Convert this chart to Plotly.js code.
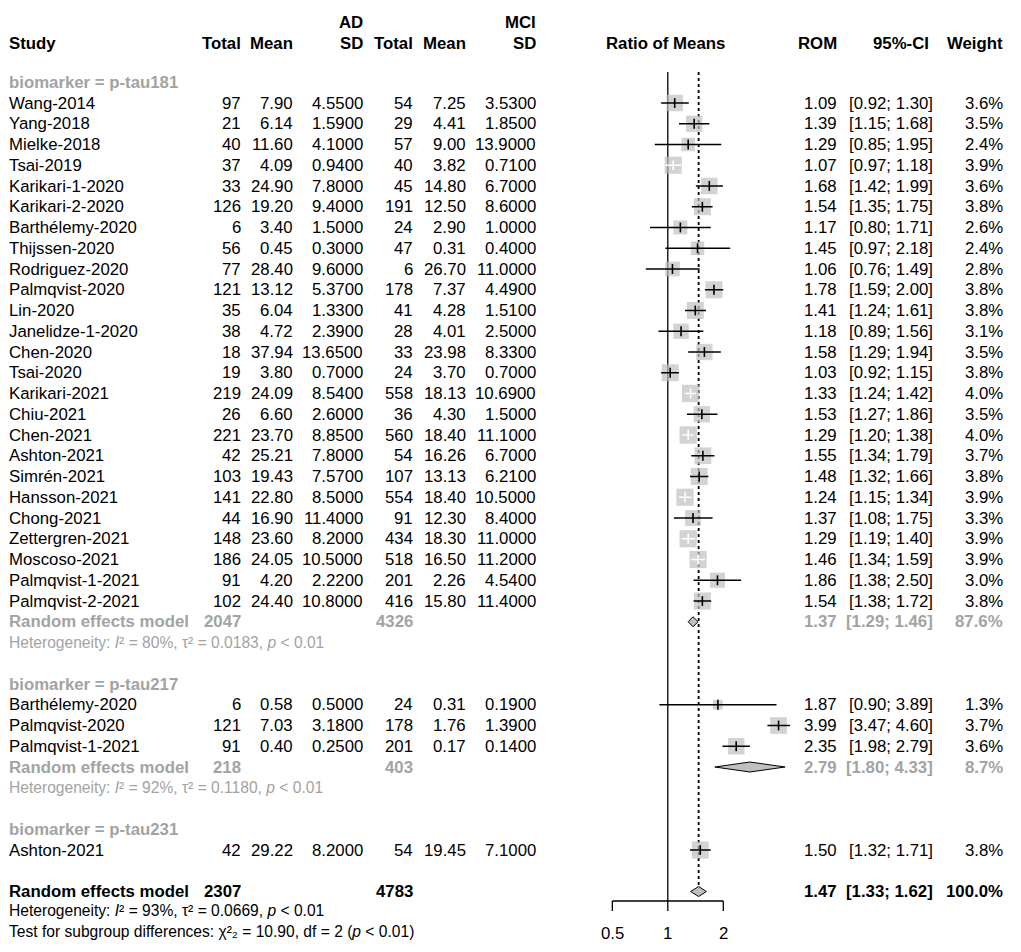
<!DOCTYPE html>
<html>
<head>
<meta charset="utf-8">
<script src="https://cdn.plot.ly/plotly-3.0.1.min.js"></script>
<style>html,body{margin:0;padding:0;background:#fff;}#chart{width:1021px;height:952px;}</style>
</head>
<body>
<div id="chart"></div>
<script>
// ---------------- DATA ----------------
const groupNames = ["p-tau181", "p-tau217", "p-tau231"];
const studies = ["Wang-2014","Yang-2018","Mielke-2018","Tsai-2019","Karikari-1-2020","Karikari-2-2020","Barthélemy-2020","Thijssen-2020","Rodriguez-2020","Palmqvist-2020","Lin-2020","Janelidze-1-2020","Chen-2020","Tsai-2020","Karikari-2021","Chiu-2021","Chen-2021","Ashton-2021","Simrén-2021","Hansson-2021","Chong-2021","Zettergren-2021","Moscoso-2021","Palmqvist-1-2021","Palmqvist-2-2021",
  "Barthélemy-2020","Palmqvist-2020","Palmqvist-1-2021",
  "Ashton-2021"];
const studyGroup = [0,0,0,0,0,0,0,0,0,0,0,0,0,0,0,0,0,0,0,0,0,0,0,0,0, 1,1,1, 2];
const adTotal = [97,21,40,37,33,126,6,56,77,121,35,38,18,19,219,26,221,42,103,141,44,148,186,91,102, 6,121,91, 42];
const adMean = [7.90,6.14,11.60,4.09,24.90,19.20,3.40,0.45,28.40,13.12,6.04,4.72,37.94,3.80,24.09,6.60,23.70,25.21,19.43,22.80,16.90,23.60,24.05,4.20,24.40, 0.58,7.03,0.40, 29.22];
const adSD = [4.55,1.59,4.10,0.94,7.80,9.40,1.50,0.30,9.60,5.37,1.33,2.39,13.65,0.70,8.54,2.60,8.85,7.80,7.57,8.50,11.40,8.20,10.50,2.22,10.80, 0.50,3.18,0.25, 8.20];
const mciTotal = [54,29,57,40,45,191,24,47,6,178,41,28,33,24,558,36,560,54,107,554,91,434,518,201,416, 24,178,201, 54];
const mciMean = [7.25,4.41,9.00,3.82,14.80,12.50,2.90,0.31,26.70,7.37,4.28,4.01,23.98,3.70,18.13,4.30,18.40,16.26,13.13,18.40,12.30,18.30,16.50,2.26,15.80, 0.31,1.76,0.17, 19.45];
const mciSD = [3.53,1.85,13.90,0.71,6.70,8.60,1.00,0.40,11.00,4.49,1.51,2.50,8.33,0.70,10.69,1.50,11.10,6.70,6.21,10.50,8.40,11.00,11.20,4.54,11.40, 0.19,1.39,0.14, 7.10];
const rom = [1.09,1.39,1.29,1.07,1.68,1.54,1.17,1.45,1.06,1.78,1.41,1.18,1.58,1.03,1.33,1.53,1.29,1.55,1.48,1.24,1.37,1.29,1.46,1.86,1.54, 1.87,3.99,2.35, 1.50];
const ciLow = [0.92,1.15,0.85,0.97,1.42,1.35,0.80,0.97,0.76,1.59,1.24,0.89,1.29,0.92,1.24,1.27,1.20,1.34,1.32,1.15,1.08,1.19,1.34,1.38,1.38, 0.90,3.47,1.98, 1.32];
const ciHigh = [1.30,1.68,1.95,1.18,1.99,1.75,1.71,2.18,1.49,2.00,1.61,1.56,1.94,1.15,1.42,1.86,1.38,1.79,1.66,1.34,1.75,1.40,1.59,2.50,1.72, 3.89,4.60,2.79, 1.71];
const weight = [3.6,3.5,2.4,3.9,3.6,3.8,2.6,2.4,2.8,3.8,3.8,3.1,3.5,3.8,4.0,3.5,4.0,3.7,3.8,3.9,3.3,3.9,3.9,3.0,3.8, 1.3,3.7,3.6, 3.8];

const groupADTotal = [2047, 218, null];
const groupMCITotal = [4326, 403, null];
const groupROM = [1.37, 2.79, null];
const groupLow = [1.29, 1.80, null];
const groupHigh = [1.46, 4.33, null];
const groupWeight = [87.6, 8.7, null];
const groupI2 = ["80%", "92%", null];
const groupTau2 = ["0.0183", "0.1180", null];
const groupP = ["&lt; 0.01", "&lt; 0.01", null];

const overallADTotal = 2307, overallMCITotal = 4783;
const overallROM = 1.47, overallLow = 1.33, overallHigh = 1.62, overallWeight = 100.0;
const overallI2 = "93%", overallTau2 = "0.0669", overallP = "&lt; 0.01";
const subgroupChi2 = "10.90", subgroupDf = 2, subgroupP = "&lt; 0.01";

const axisTicks = [0.5, 1, 2];
const tickLabels = ["0.5", "1", "2"];

// ---------------- LAYOUT HELPERS ----------------
const W = 1021, H = 952;
const Y0 = 103, RH = 20.75;          // pixel y of first study row, row height
const pr = p => (p - Y0) / RH;        // pixel y -> row units
const PXDEC = 184.3, X1 = 667.8;      // px per decade, pixel of ROM = 1
const FONT = "Liberation Sans, Arial, Helvetica, sans-serif";
const FS = 16.8, FS_SMALL = 15.6;
const GREY = "#a3a3a3";
const BOXC = "#c0c0c0";

const col = {study: 8, adT: 242, adM: 294, adS: 364, mciT: 414, mciM: 467, mciS: 537, rom: 838, ci: 934, w: 1004};

const ann = [];
function txt(px, row, text, o) {
  o = o || {};
  ann.push({
    xref: "paper", yref: "y", x: px / W, y: row,
    text: text, showarrow: false,
    xanchor: o.anchor || "right", yanchor: "middle",
    font: {family: FONT, size: o.size || FS, color: o.color || "#000"},
    borderpad: 0
  });
}
const b = s => "<b>" + s + "</b>";
const ciTxt = (l, h) => "[" + l.toFixed(2) + "; " + h.toFixed(2) + "]";
const hetTxt = (i2, t2, p) => "Heterogeneity: <i>I</i>² = " + i2 + ", τ² = " + t2 + ", <i>p</i> " + p;
const subTxt = ["", "₁", "₂", "₃", "₄"];

// header
txt(col.adS, pr(22), b("AD"));
txt(col.mciS, pr(22), b("MCI"));
const hy = pr(43);
txt(col.study, hy, b("Study"), {anchor: "left"});
txt(col.adT, hy, b("Total")); txt(col.adM, hy, b("Mean")); txt(col.adS, hy, b("SD"));
txt(col.mciT, hy, b("Total")); txt(col.mciM, hy, b("Mean")); txt(col.mciS, hy, b("SD"));
txt(665, hy, b("Ratio of Means"), {anchor: "center"});
txt(col.rom, hy, b("ROM")); txt(930, hy, b("95%-CI")); txt(col.w, hy, b("Weight"));

// rows
const studyRow = [];
const groupRow = [];
let r = -1;
for (let g = 0; g < groupNames.length; g++) {
  txt(col.study, r, b("biomarker = " + groupNames[g]), {anchor: "left", color: GREY});
  r++;
  for (let i = 0; i < studies.length; i++) {
    if (studyGroup[i] !== g) continue;
    studyRow[i] = r;
    txt(col.study, r, studies[i], {anchor: "left"});
    txt(col.adT, r, String(adTotal[i]));
    txt(col.adM, r, adMean[i].toFixed(2));
    txt(col.adS, r, adSD[i].toFixed(4));
    txt(col.mciT, r, String(mciTotal[i]));
    txt(col.mciM, r, mciMean[i].toFixed(2));
    txt(col.mciS, r, mciSD[i].toFixed(4));
    txt(col.rom, r, rom[i].toFixed(2));
    txt(col.ci, r, ciTxt(ciLow[i], ciHigh[i]));
    txt(col.w, r, weight[i].toFixed(1) + "%");
    r++;
  }
  if (groupROM[g] !== null) {
    groupRow[g] = r;
    txt(col.study, r, b("Random effects model"), {anchor: "left", color: GREY});
    txt(col.adT, r, b(String(groupADTotal[g])), {color: GREY});
    txt(col.mciT, r, b(String(groupMCITotal[g])), {color: GREY});
    txt(col.rom, r, b(groupROM[g].toFixed(2)), {color: GREY});
    txt(col.ci, r, b(ciTxt(groupLow[g], groupHigh[g])), {color: GREY});
    txt(col.w, r, b(groupWeight[g].toFixed(1) + "%"), {color: GREY});
    txt(col.study, r + 1, hetTxt(groupI2[g], groupTau2[g], groupP[g]), {anchor: "left", color: GREY, size: FS_SMALL});
    r += 2;
  }
  r++;
}
const overallRow = r;
txt(col.study, overallRow, b("Random effects model"), {anchor: "left"});
txt(col.adT, overallRow, b(String(overallADTotal)));
txt(col.mciT, overallRow, b(String(overallMCITotal)));
txt(col.rom, overallRow, b(overallROM.toFixed(2)));
txt(col.ci, overallRow, b(ciTxt(overallLow, overallHigh)));
txt(col.w, overallRow, b(overallWeight.toFixed(1) + "%"));
txt(col.study, pr(910), hetTxt(overallI2, overallTau2, overallP), {anchor: "left", size: FS_SMALL});
txt(col.study, pr(931), "Test for subgroup differences: χ²" + subTxt[subgroupDf] + " = " + subgroupChi2 + ", df = " + subgroupDf + " (<i>p</i> " + subgroupP + ")", {anchor: "left", size: FS_SMALL});

// ---------------- TRACES ----------------
const traces = [];
const topRow = pr(72), axisRow = pr(901), tickRow = pr(911);
const dh = 5 / RH; // diamond half-height in rows

// reference lines
traces.push({x: [1, 1], y: [topRow, axisRow], mode: "lines", line: {color: "#000", width: 1.3}, hoverinfo: "skip"});
traces.push({x: [overallROM, overallROM], y: [topRow, overallRow - dh], mode: "lines", line: {color: "#000", width: 1.8, dash: "dot"}, hoverinfo: "skip"});

// squares
const side = w => 8.7 * Math.sqrt(w);
traces.push({
  x: rom, y: studyRow, mode: "markers",
  marker: {symbol: "square", size: weight.map(side), color: BOXC, line: {width: 0}},
  hoverinfo: "skip"
});
// CI lines (white when inside the box)
const bx = [], by = [], wx = [], wy = [], bpx = [], bpy = [], wpx = [], wpy = [];
for (let i = 0; i < studies.length; i++) {
  const widthPx = Math.log10(ciHigh[i] / ciLow[i]) * PXDEC;
  const inside = widthPx < side(weight[i]);
  const X = inside ? wx : bx, Y = inside ? wy : by;
  X.push(ciLow[i], ciHigh[i], null); Y.push(studyRow[i], studyRow[i], null);
  (inside ? wpx : bpx).push(rom[i]); (inside ? wpy : bpy).push(studyRow[i]);
}
traces.push({x: bx, y: by, mode: "lines", line: {color: "#000", width: 1.5}, hoverinfo: "skip", connectgaps: false});
traces.push({x: wx, y: wy, mode: "lines", line: {color: "#fff", width: 1.5}, hoverinfo: "skip", connectgaps: false});
traces.push({x: bpx, y: bpy, mode: "markers", marker: {symbol: "line-ns-open", size: 7, color: "#000", line: {color: "#000", width: 1.6}}, hoverinfo: "skip"});
traces.push({x: wpx, y: wpy, mode: "markers", marker: {symbol: "line-ns-open", size: 7, color: "#fff", line: {color: "#fff", width: 1.6}}, hoverinfo: "skip"});

// diamonds
function diamond(est, lo, hi, row) {
  traces.push({x: [lo, est, hi, est, lo], y: [row, row - dh, row, row + dh, row], mode: "lines", fill: "toself", fillcolor: BOXC, line: {color: "#000", width: 1}, hoverinfo: "skip"});
}
for (let g = 0; g < groupNames.length; g++) if (groupROM[g] !== null) diamond(groupROM[g], groupLow[g], groupHigh[g], groupRow[g]);
diamond(overallROM, overallLow, overallHigh, overallRow);

// bottom axis
traces.push({x: [axisTicks[0], axisTicks[axisTicks.length - 1]], y: [axisRow, axisRow], mode: "lines", line: {color: "#000", width: 1.3}, hoverinfo: "skip"});
const tx = [], ty = [];
axisTicks.forEach(t => { tx.push(t, t, null); ty.push(axisRow, tickRow, null); });
traces.push({x: tx, y: ty, mode: "lines", line: {color: "#000", width: 1.3}, hoverinfo: "skip"});
axisTicks.forEach((t, k) => {
  ann.push({xref: "x", yref: "y", x: Math.log10(t), y: pr(933), text: tickLabels[k], showarrow: false, xanchor: "center", yanchor: "middle", font: {family: FONT, size: FS, color: "#000"}});
});

const layout = {
  width: W, height: H,
  margin: {l: 0, r: 0, t: 0, b: 0, pad: 0},
  paper_bgcolor: "#fff", plot_bgcolor: "#fff",
  showlegend: false, hovermode: false,
  xaxis: {type: "log", domain: [0, 1], range: [-X1 / PXDEC, (W - X1) / PXDEC], showgrid: false, zeroline: false, showline: false, showticklabels: false, ticks: "", fixedrange: true},
  yaxis: {domain: [0, 1], range: [pr(H), pr(0)], showgrid: false, zeroline: false, showline: false, showticklabels: false, ticks: "", fixedrange: true},
  annotations: ann
};
Plotly.newPlot("chart", traces, layout, {staticPlot: true, displayModeBar: false});
</script>
</body>
</html>
